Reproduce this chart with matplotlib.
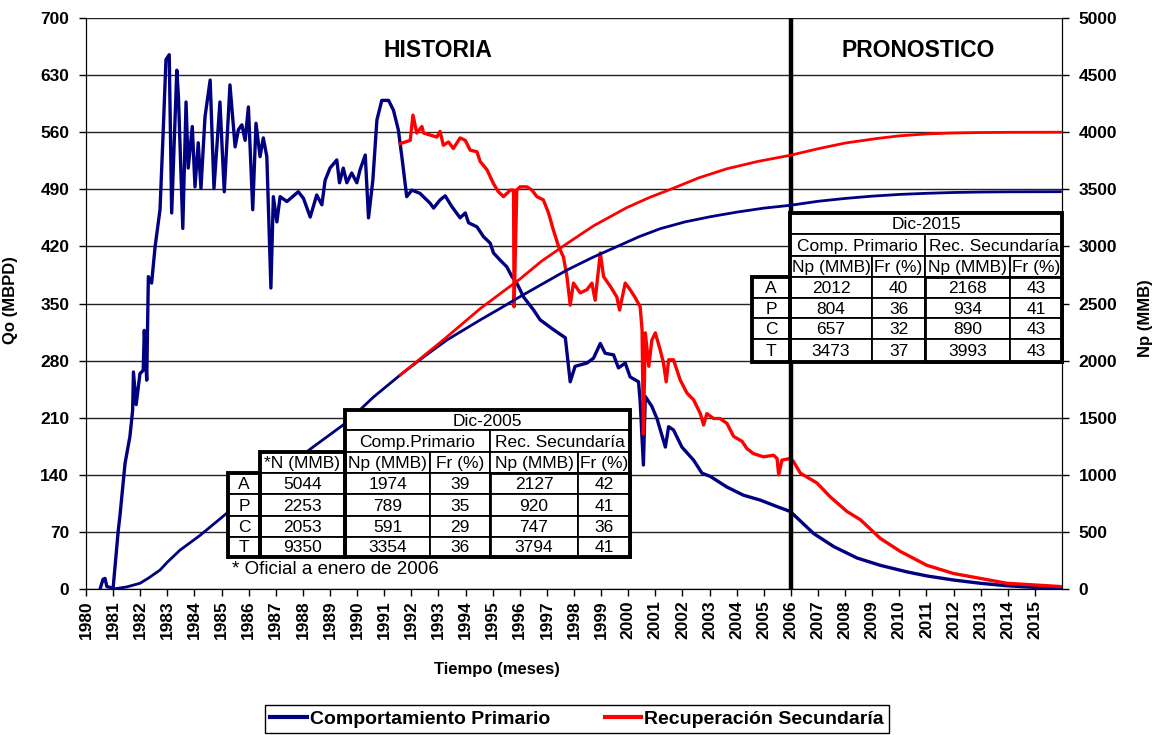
import matplotlib.pyplot as plt
from matplotlib.lines import Line2D
from matplotlib.patches import Rectangle

plt.rcParams['font.family'] = ['Liberation Sans', 'DejaVu Sans']

W, H = 1155, 735

# Produccion diaria, comportamiento primario (MBPD)
prim_yr = [1980.52, 1980.63, 1980.70, 1980.77, 1981.00, 1981.19, 1981.25, 1981.44, 1981.62, 1981.72,
           1981.75, 1981.85, 1981.99, 1982.11, 1982.15, 1982.24, 1982.30, 1982.42, 1982.55, 1982.73,
           1982.85, 1982.95, 1983.07, 1983.16, 1983.35, 1983.41, 1983.57, 1983.69, 1983.77, 1983.92,
           1984.02, 1984.14, 1984.24, 1984.39, 1984.58, 1984.72, 1984.94, 1985.10, 1985.31, 1985.50,
           1985.62, 1985.75, 1985.87, 1985.99, 1986.15, 1986.27, 1986.42, 1986.54, 1986.67, 1986.82,
           1986.91, 1987.04, 1987.16, 1987.41, 1987.83, 1988.02, 1988.27, 1988.51, 1988.70, 1988.82,
           1989.00, 1989.25, 1989.35, 1989.49, 1989.62, 1989.80, 1989.99, 1990.11, 1990.30, 1990.42,
           1990.58, 1990.73, 1990.91, 1991.16, 1991.34, 1991.52, 1991.65, 1991.83, 1992.02, 1992.32,
           1992.69, 1992.82, 1993.06, 1993.25, 1993.49, 1993.80, 1993.99, 1994.11, 1994.42, 1994.66,
           1994.91, 1995.03, 1995.28, 1995.52, 1995.71, 1995.89, 1996.14, 1996.51, 1996.75, 1997.24,
           1997.68, 1997.86, 1998.04, 1998.48, 1998.72, 1998.97, 1999.15, 1999.46, 1999.64, 1999.89,
           2000.07, 2000.38, 2000.44, 2000.56, 2000.63, 2000.87, 2001.06, 2001.37, 2001.49, 2001.67,
           2001.98, 2002.41, 2002.72, 2003.03, 2003.64, 2004.25, 2004.87, 2005.49, 2005.98, 2006.84,
           2007.58, 2008.44, 2009.30, 2010.28, 2011.02, 2012.00, 2012.99, 2013.97, 2014.96, 2015.94]
prim_qo = [0, 12, 13, 3, 1, 72, 89, 154, 187, 219,
           266, 226, 264, 268, 317, 256, 383, 375, 420, 465,
           563, 649, 655, 461, 636, 603, 442, 597, 516, 567,
           493, 547, 491, 579, 624, 491, 597, 487, 618, 542,
           563, 569, 550, 591, 465, 571, 530, 553, 530, 369,
           481, 450, 481, 475, 487, 479, 456, 483, 471, 501,
           516, 526, 498, 516, 498, 510, 498, 514, 532, 455,
           501, 575, 599, 599, 587, 563, 530, 481, 489, 485,
           473, 467, 477, 482, 469, 455, 461, 449, 444, 432,
           424, 412, 403, 395, 383, 375, 358, 342, 330, 318,
           308, 254, 273, 277, 283, 301, 289, 287, 271, 277,
           260, 254, 230, 152, 236, 224, 209, 174, 199, 195,
           174, 158, 142, 138, 125, 115, 109, 101, 95, 68,
           52, 38, 29, 21, 16, 11, 7, 4, 2, 1]

# Produccion diaria, recuperacion secundaria (MBPD)
sec_yr = [1991.59, 1991.96, 1992.06, 1992.20, 1992.39, 1992.45, 1992.94, 1993.06, 1993.18, 1993.37,
          1993.55, 1993.80, 1993.99, 1994.17, 1994.42, 1994.54, 1994.79, 1995.03, 1995.21, 1995.40,
          1995.65, 1995.77, 1995.79, 1995.89, 1996.01, 1996.26, 1996.45, 1996.63, 1996.87, 1997.06,
          1997.24, 1997.43, 1997.61, 1997.74, 1997.86, 1997.98, 1998.23, 1998.48, 1998.66, 1998.78,
          1998.97, 1999.09, 1999.34, 1999.58, 1999.68, 1999.89, 2000.07, 2000.26, 2000.44, 2000.51,
          2000.56, 2000.63, 2000.76, 2000.87, 2001.00, 2001.18, 2001.30, 2001.40, 2001.49, 2001.67,
          2001.92, 2002.17, 2002.41, 2002.66, 2002.78, 2002.90, 2003.15, 2003.39, 2003.64, 2003.89,
          2004.20, 2004.38, 2004.62, 2004.99, 2005.36, 2005.49, 2005.55, 2005.67, 2005.98, 2006.10,
          2006.35, 2006.96, 2007.45, 2008.07, 2008.56, 2009.30, 2010.04, 2011.02, 2012.00, 2012.99,
          2013.97, 2014.96, 2015.94]
sec_qo = [546, 550, 581, 559, 567, 559, 554, 561, 544, 548,
          540, 553, 550, 538, 536, 524, 514, 497, 487, 481,
          489, 489, 346, 489, 493, 493, 489, 481, 477, 461,
          440, 420, 407, 383, 348, 375, 363, 367, 375, 354,
          412, 383, 371, 358, 342, 375, 367, 357, 346, 318,
          190, 314, 273, 305, 314, 293, 277, 254, 281, 281,
          256, 240, 232, 215, 201, 215, 209, 209, 203, 187,
          181, 172, 166, 162, 164, 160, 140, 158, 160, 156,
          142, 130, 113, 95, 85, 62, 46, 29, 19, 13,
          7, 5, 3]

# Produccion acumulada (MMB)
prim_np_yr = [1981.00, 1981.50, 1981.99, 1982.30, 1982.73, 1983.00, 1983.47, 1984.21, 1985.19, 1986.50,
              1988.39, 1989.62, 1990.60, 1991.59, 1992.50, 1993.31, 1994.54, 1995.30, 1996.01, 1996.90,
              1997.74, 1998.70, 1999.58, 2000.40, 2001.18, 2002.10, 2003.03, 2004.00, 2005.00, 2005.98,
              2007.00, 2008.00, 2009.00, 2010.00, 2011.02, 2012.00, 2013.00, 2014.00, 2015.94]
prim_np = [0, 18, 50, 95, 166, 235, 341, 470, 663, 905,
           1246, 1460, 1680, 1874, 2040, 2180, 2356, 2460, 2560, 2680,
           2793, 2905, 2998, 3085, 3155, 3215, 3260, 3300, 3335, 3360,
           3395, 3420, 3440, 3455, 3465, 3472, 3476, 3478, 3479]
sec_np_yr = [1991.59, 1992.40, 1993.25, 1994.54, 1995.30, 1996.01, 1996.80, 1997.68, 1998.72, 1999.95,
             2000.80, 2001.67, 2002.60, 2003.64, 2004.80, 2005.98, 2007.00, 2008.00, 2009.18, 2010.00,
             2011.02, 2012.00, 2013.00, 2014.00, 2015.94]
sec_np = [1874, 2030, 2195, 2455, 2590, 2715, 2870, 3015, 3180, 3340,
          3430, 3510, 3600, 3680, 3745, 3798, 3855, 3905, 3945, 3968,
          3985, 3993, 3997, 3999, 4000]

years = list(range(1980, 2016))
qo_ticks = list(range(0, 701, 70))
np_ticks = list(range(0, 5001, 500))

# Tablas de reservas
areas = ['A', 'P', 'C', 'T']
n_2005 = [5044, 2253, 2053, 9350]
np_prim_2005 = [1974, 789, 591, 3354]
fr_prim_2005 = [39, 35, 29, 36]
np_sec_2005 = [2127, 920, 747, 3794]
fr_sec_2005 = [42, 41, 36, 41]
np_prim_2015 = [2012, 804, 657, 3473]
fr_prim_2015 = [40, 36, 32, 37]
np_sec_2015 = [2168, 934, 890, 3993]
fr_sec_2015 = [43, 41, 43, 43]

NAVY = '#000080'
RED = '#ff0000'
TFS = 12.5  # letra de las tablas

fig = plt.figure(figsize=(W / 100, H / 100), dpi=100)
ax = fig.add_axes([86 / W, 1 - 589 / H, (1062 - 86) / W, (589 - 18) / H])
ax2 = ax.twinx()

ax.plot(prim_yr, prim_qo, color=NAVY, lw=2.4, zorder=3)
ax.plot(sec_yr, sec_qo, color=RED, lw=2.4, zorder=3)
ax2.plot(prim_np_yr, prim_np, color=NAVY, lw=2.0)
ax2.plot(sec_np_yr, sec_np, color=RED, lw=2.0)

ax.set_xlim(1980, 2016)
ax.set_ylim(0, 700)
ax2.set_ylim(0, 5000)
ax.set_xticks(years)
ax.set_xticklabels([str(y) for y in years], rotation=90, fontsize=12.5, fontweight='bold')
ax.set_yticks(qo_ticks)
ax.set_yticklabels([str(v) for v in qo_ticks], fontsize=12.5, fontweight='bold')
ax2.set_yticks(np_ticks)
ax2.set_yticklabels([str(v) for v in np_ticks], fontsize=12.5, fontweight='bold')
for a in (ax, ax2):
    a.tick_params(direction='out', length=5, width=1, colors='black', pad=3)
    a.spines['top'].set_visible(False)
ax.tick_params(axis='y', pad=7)
ax2.tick_params(axis='y', pad=7)

ax.yaxis.grid(True, color='#222222', lw=1.0)
ax.set_axisbelow(True)
ax.axvline(2006, color='black', lw=3.2, zorder=4)

ax.set_ylabel('Qo (MBPD)', fontsize=12, fontweight='bold')
ax.yaxis.set_label_coords(-0.07, 0.506)
ax2.set_ylabel('Np (MMB)', fontsize=12, fontweight='bold', rotation=90)
ax2.yaxis.set_label_coords(1.078, 0.475)
ax.set_xlabel('Tiempo (meses)', fontsize=12, fontweight='bold')
ax.xaxis.set_label_coords(0.421, -0.128)

# capa en pixeles para textos y tablas
ov = fig.add_axes([0, 0, 1, 1], facecolor='none')
ov.set_xlim(0, W)
ov.set_ylim(H, 0)
ov.axis('off')

ov.text(438, 50, 'HISTORIA', fontsize=16.5, fontweight='bold', ha='center', va='center')
ov.text(918, 50, 'PRONOSTICO', fontsize=16.5, fontweight='bold', ha='center', va='center')


def cell(x0, x1, y0, y1, text, lw=1.3):
    ov.add_patch(Rectangle((x0, y0), x1 - x0, y1 - y0, facecolor='white',
                           edgecolor='black', lw=lw))
    ov.text((x0 + x1) / 2, (y0 + y1) / 2 + 1, text, ha='center', va='center', fontsize=TFS)


def box(x0, x1, y0, y1, lw=2.8):
    ov.add_patch(Rectangle((x0, y0), x1 - x0, y1 - y0, fill=False, edgecolor='black', lw=lw))


def data_block(cols, rows, columns):
    for i, name in enumerate(areas):
        y0, y1 = rows[i], rows[i + 1]
        cell(cols[0], cols[1], y0, y1, name)
        for j, values in enumerate(columns):
            cell(cols[j + 1], cols[j + 2], y0, y1, str(values[i]))


# Tabla Dic-2005
c1 = [228, 260, 345, 430, 490, 578, 630]
r1 = [473, 494, 516, 537, 557]
cell(345, 630, 410, 430, 'Dic-2005')
cell(345, 490, 430, 452, 'Comp.Primario')
cell(490, 630, 430, 452, 'Rec. Secundaría')
for lab, x0, x1 in zip(['*N (MMB)', 'Np (MMB)', 'Fr (%)', 'Np (MMB)', 'Fr (%)'], c1[1:-1], c1[2:]):
    cell(x0, x1, 452, 473, lab)
data_block(c1, r1, [n_2005, np_prim_2005, fr_prim_2005, np_sec_2005, fr_sec_2005])
box(228, 260, 473, 557)
box(260, 345, 452, 557)
box(345, 630, 410, 557)
box(490, 630, 473, 557, lw=2.0)
ov.text(232, 570, '* Oficial a enero de 2006', fontsize=13.5, ha='left', va='center')

# Tabla Dic-2015
c2 = [752, 790, 872, 925, 1010, 1062]
r2 = [277, 298, 318, 339, 362]
cell(790, 1062, 213, 234, 'Dic-2015')
cell(790, 925, 234, 256, 'Comp. Primario')
cell(925, 1062, 234, 256, 'Rec. Secundaría')
for lab, x0, x1 in zip(['Np (MMB)', 'Fr (%)', 'Np (MMB)', 'Fr (%)'], c2[1:-1], c2[2:]):
    cell(x0, x1, 256, 277, lab)
data_block(c2, r2, [np_prim_2015, fr_prim_2015, np_sec_2015, fr_sec_2015])
box(752, 790, 277, 362)
box(790, 1062, 213, 362)
box(925, 1062, 277, 362, lw=2.0)

handles = [Line2D([], [], color=NAVY, lw=3), Line2D([], [], color=RED, lw=3)]
leg = fig.legend(handles, ['Comportamiento Primario', 'Recuperación Secundaría'],
                 loc='center', bbox_to_anchor=(577 / W, 1 - 719 / H), ncol=2,
                 frameon=True, fancybox=False, edgecolor='black', framealpha=1,
                 prop=dict(weight='bold', size=14), handlelength=1.9,
                 handletextpad=0.15, columnspacing=2.8, borderpad=0.25)
leg.get_frame().set_linewidth(1.0)

fig.savefig('out.png', dpi=100)
